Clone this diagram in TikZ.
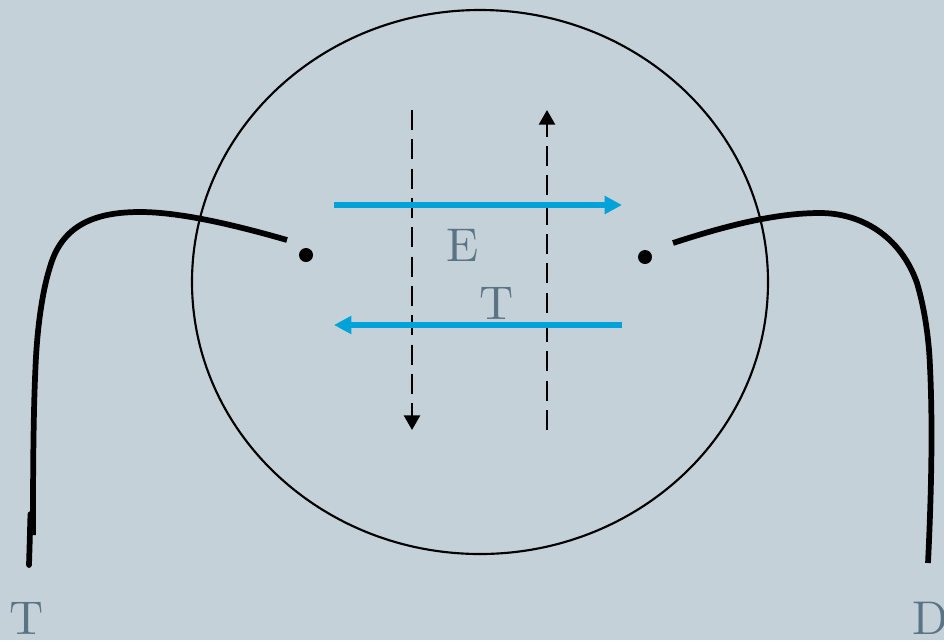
\documentclass[tikz,border=0pt]{standalone}
\usetikzlibrary{arrows.meta,shapes.geometric}
\definecolor{bgc}{HTML}{C5D1D8}
\definecolor{txtc}{HTML}{5A7485}
\definecolor{bluec}{HTML}{00A3D9}
\tikzset{x=0.75pt,y=-0.75pt,
 lead/.style={line width=4.3pt},
 field/.style={black,line width=2pt,dash pattern=on 15pt off 7pt},
 cur/.style={bluec,line width=4.2pt},
 lab/.style={text=txtc,font=\fontsize{10}{10}\selectfont,inner sep=0pt,scale=3.55},
 tipb/.style={-{Triangle[length=11pt,width=12pt]}},
 tipc/.style={-{Triangle[length=13pt,width=13pt]}},
 dotn/.style={circle,fill=black,inner sep=0pt,minimum size=10.5pt}}
\begin{document}
\begin{tikzpicture}
\useasboundingbox[fill=bgc] (0,0) rectangle (944,640);
\node[ellipse,draw=black,line width=1.6pt,minimum width=432pt,minimum height=408pt,inner sep=0pt] (ring) at (480,282) {};
\node[dotn] (d1) at (306,255) {};
\node[dotn] (d2) at (645,257) {};
\coordinate (l0) at (287,240);
\coordinate (lm) at (33,535);
\coordinate (ls) at (30.5,514);
\coordinate (l1) at (29,565);
\coordinate (r0) at (673,243);
\coordinate (r1) at (928,563);
\draw[lead] (l0) .. controls (235,225) and (180,212) .. (140,212) .. controls (95,212) and (62,225) .. (50,267) .. controls (42,292) and (37,330) .. (35.5,367) .. controls (33,420) and (33,490) .. (lm);
\draw[lead,line cap=round] (ls) .. controls (30,530) and (29.5,550) .. (l1);
\draw[lead] (r0) .. controls (725,226) and (775,213) .. (820,213) .. controls (860,213) and (900,235) .. (917,283) .. controls (925,310) and (929,340) .. (930,367) .. controls (933,430) and (931,500) .. (r1);
\coordinate (f1a) at (412,110); \coordinate (f1b) at (412,430);
\coordinate (f2a) at (547,430); \coordinate (f2b) at (547,110);
\draw[field,tipb] (f1a) -- (f1b);
\draw[field,tipb] (f2a) -- (f2b);
\coordinate (c1a) at (334,205); \coordinate (c1b) at (622,205);
\coordinate (c2a) at (622,325); \coordinate (c2b) at (334,325);
\draw[cur,tipc] (c1a) -- (c1b);
\draw[cur,tipc] (c2a) -- (c2b);
\node[lab] (E) at (463,245) {E};
\node[lab] (T1) at (496.5,303) {T};
\node[lab] (T2) at (26.5,618.5) {T};
\node[lab] (D) at (931,618.5) {D};
\end{tikzpicture}
\end{document}
